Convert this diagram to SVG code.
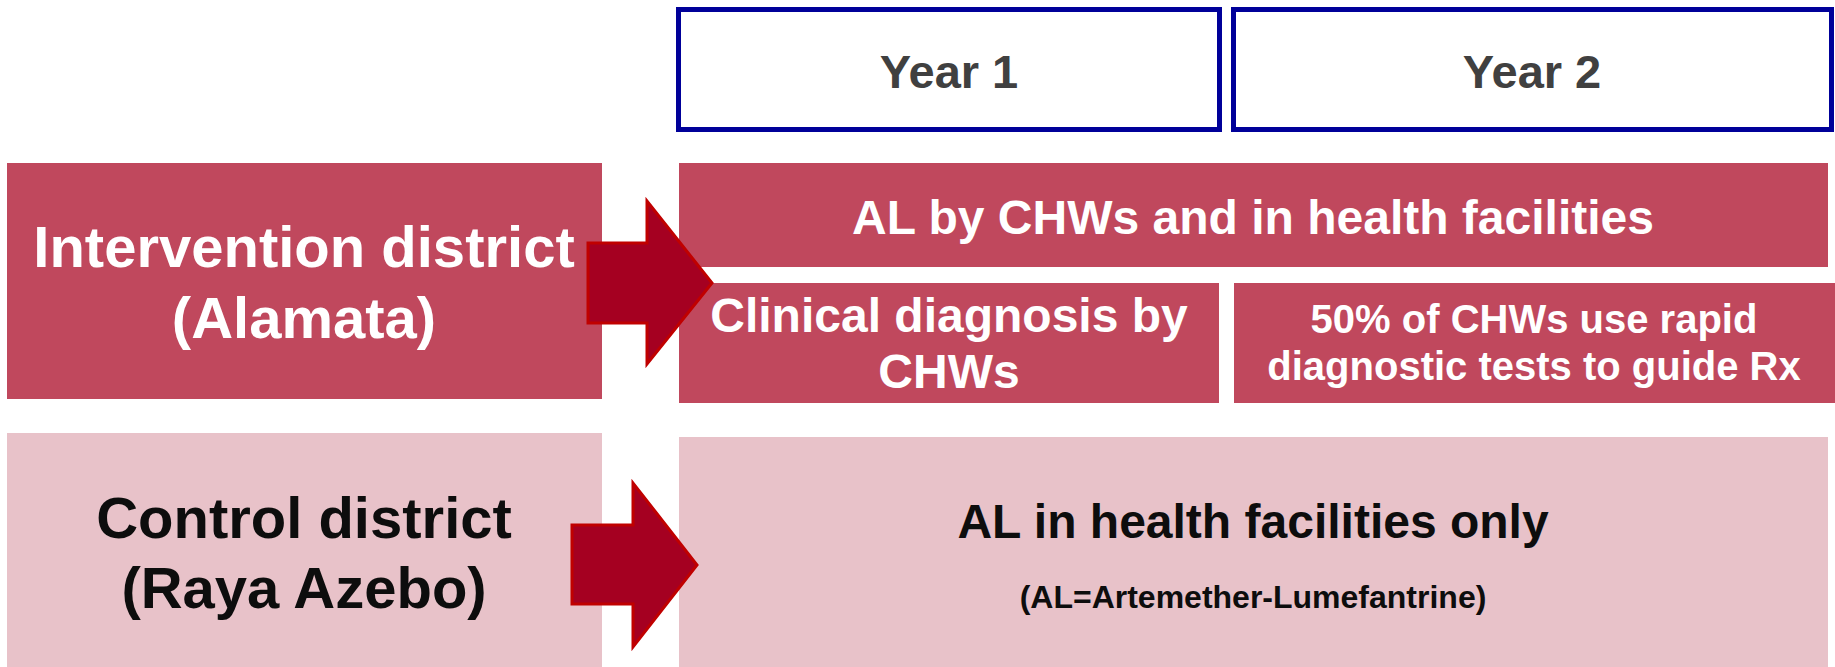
<svg xmlns="http://www.w3.org/2000/svg" width="1835" height="667" viewBox="0 0 1835 667">
  <style>
    text { font-family: "Liberation Sans", Arial, sans-serif; font-weight: bold; text-anchor: middle; }
    .year { fill: #ffffff; stroke: #000099; stroke-width: 5; }
    .year-t { fill: #404040; font-size: 47px; }
    .dark { fill: #C0485D; }
    .light { fill: #E8C2C9; }
    .wt { fill: #ffffff; }
    .bk { fill: #0d0d0d; }
    .arrow { fill: #A50021; stroke: #C00000; stroke-width: 3; stroke-linejoin: miter; }
  </style>
  <rect width="1835" height="667" fill="#ffffff"/>

  <!-- timeline headers -->
  <g id="year1">
    <rect class="year" x="678.5" y="9.5" width="541" height="120"/>
    <text class="year-t" x="949" y="88">Year 1</text>
  </g>
  <g id="year2">
    <rect class="year" x="1233.5" y="9.5" width="598" height="120"/>
    <text class="year-t" x="1532" y="88">Year 2</text>
  </g>

  <!-- intervention arm -->
  <g id="intervention">
    <rect class="dark" x="7" y="163" width="595" height="236"/>
    <text class="wt" x="304" y="267" font-size="58">Intervention district</text>
    <text class="wt" x="304" y="338" font-size="58">(Alamata)</text>
  </g>
  <g id="al-chw">
    <rect class="dark" x="679" y="163" width="1149" height="104"/>
    <text class="wt" x="1253" y="234" font-size="48">AL by CHWs and in health facilities</text>
  </g>
  <g id="clinical">
    <rect class="dark" x="679" y="283" width="540" height="120"/>
    <text class="wt" x="949" y="332" font-size="48">Clinical diagnosis by</text>
    <text class="wt" x="949" y="388" font-size="48">CHWs</text>
  </g>
  <g id="rdt">
    <rect class="dark" x="1234" y="283" width="601" height="120"/>
    <text class="wt" x="1534" y="333" font-size="40">50% of CHWs use rapid</text>
    <text class="wt" x="1534" y="380" font-size="40">diagnostic tests to guide Rx</text>
  </g>

  <!-- control arm -->
  <g id="control">
    <rect class="light" x="7" y="433" width="595" height="234"/>
    <text class="bk" x="304" y="538" font-size="58">Control district</text>
    <text class="bk" x="304" y="608" font-size="58">(Raya Azebo)</text>
  </g>
  <g id="al-hf">
    <rect class="light" x="679" y="437" width="1149" height="230"/>
    <text class="bk" x="1253" y="538" font-size="48">AL in health facilities only</text>
    <text class="bk" x="1253" y="608" font-size="32">(AL=Artemether-Lumefantrine)</text>
  </g>

  <!-- block arrows -->
  <g id="connectors">
    <polygon class="arrow" points="588,243 647,243 647,201 712,283 647,364 647,323 588,323"/>
    <polygon class="arrow" points="572,525 633,525 633,483 697,565 633,647 633,604 572,604"/>
  </g>
</svg>
